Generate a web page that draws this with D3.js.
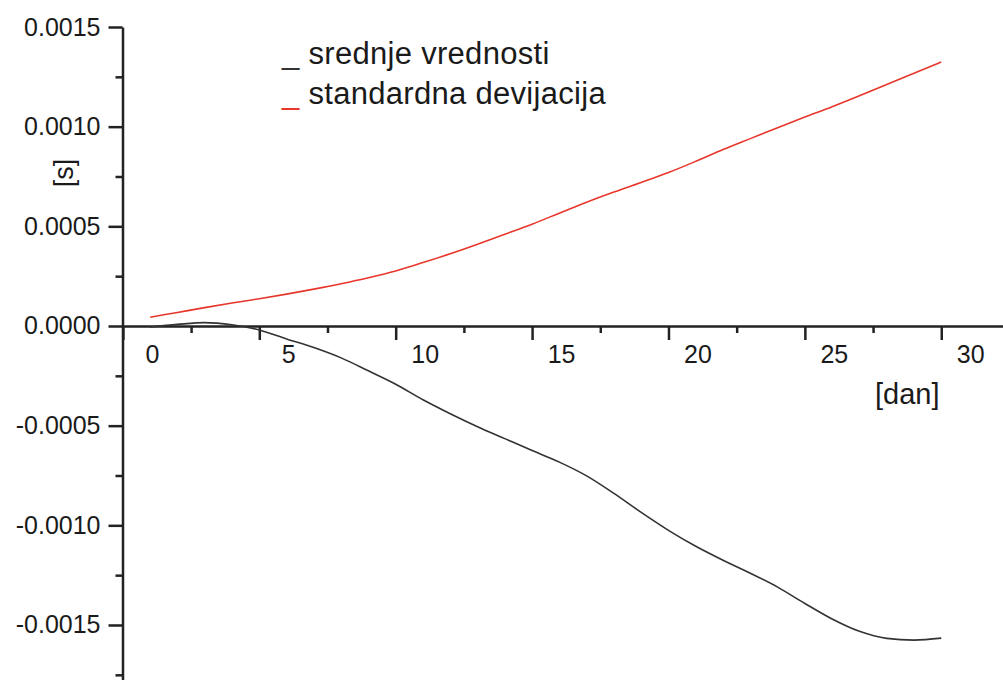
<!DOCTYPE html>
<html>
<head>
<meta charset="utf-8">
<script src="https://cdn.jsdelivr.net/npm/d3@7"></script>
<style>
  body { margin: 0; background: #fff; }
  text { font-family: "Liberation Sans", Arial, sans-serif; fill: #1a1a1a; }
</style>
</head>
<body>
<div id="chart"></div>
<script>
// data
var days = [1,2,3,4,5,6,7,8,9,10,11,12,13,14,15,16,17,18,19,20,21,22,23,24,25,26,27,28,29,30];
var meanValues = [-0.000005,0.000008,0.000017,0.000006,-0.000020,-0.000065,-0.000108,-0.000160,-0.000225,-0.000292,
  -0.000370,-0.000440,-0.000505,-0.000565,-0.000625,-0.000683,-0.000752,-0.000840,-0.000935,-0.001025,
  -0.001105,-0.001175,-0.001240,-0.001310,-0.001392,-0.001470,-0.001532,-0.001567,-0.001576,-0.001566];
var stdValues = [0.000044,0.000068,0.000092,0.000115,0.000137,0.000160,0.000185,0.000212,0.000242,0.000276,
  0.000318,0.000362,0.000410,0.000460,0.000511,0.000566,0.000621,0.000672,0.000720,0.000770,
  0.000826,0.000885,0.000940,0.000995,0.001048,0.001100,0.001155,0.001212,0.001268,0.001324];
var xTicks = [0,5,10,15,20,25,30];
var xMinor = [2.5,7.5,12.5,17.5,22.5,27.5];
var yTicks = [0.0015,0.0010,0.0005,0,-0.0005,-0.0010,-0.0015];
var yMinor = [0.00125,0.00075,0.00025,-0.00025,-0.00075,-0.00125,-0.00175];
var legendLabels = ["srednje vrednosti","standardna devijacija"];
var lineColors = ["#333333","#e8362b"];

var svgWidth = 1003;
var svgHeight = 680;

var svg = d3.select("#chart")
  .append("svg")
  .attr("width", svgWidth)
  .attr("height", svgHeight);

// scales
var xScale = d3.scaleLinear()
  .domain([0, 32.3])
  .range([122.9, 1004]);

var yScale = d3.scaleLinear()
  .domain([-0.00178, 0.0015])
  .range([680.8, 27]);

// y axis
var yAxis = svg.append("g")
  .attr("transform", "translate(122.5,0)")
  .call(d3.axisLeft(yScale).tickValues(yTicks).tickSize(14).tickSizeOuter(0)
    .tickFormat(d3.format(".4f")));
yAxis.selectAll("text")
  .attr("x", -22)
  .style("font-size", "25px")
  .style("font-family", "'Liberation Sans', Arial, sans-serif")
  .text(d => d3.format(".4f")(d).replace("−", "-"));

svg.append("g")
  .attr("transform", "translate(122.5,0)")
  .call(d3.axisLeft(yScale).tickValues(yMinor).tickSize(7).tickFormat(""))
  .select(".domain").remove();

// x axis
var xAxis = svg.append("g")
  .attr("transform", "translate(0,326)")
  .call(d3.axisBottom(xScale).tickValues(xTicks).tickSize(14).tickSizeOuter(0));
xAxis.selectAll("text")
  .attr("x", 29)
  .attr("y", 19)
  .style("font-size", "25px")
  .style("font-family", "'Liberation Sans', Arial, sans-serif");

svg.append("g")
  .attr("transform", "translate(0,326)")
  .call(d3.axisBottom(xScale).tickValues(xMinor).tickSize(7).tickFormat(""))
  .select(".domain").remove();

svg.selectAll(".domain, .tick line")
  .attr("stroke", "#222")
  .attr("stroke-width", 2.5);

// axis labels
svg.append("text")
  .attr("x", 875)
  .attr("y", 404)
  .style("font-size", "29px")
  .text("[dan]");

svg.append("text")
  .attr("transform", "translate(73,173) rotate(-90)")
  .attr("text-anchor", "middle")
  .style("font-size", "27px")
  .text("[s]");

// lines
var line = d3.line()
  .x(d => xScale(d[0]))
  .y(d => yScale(d[1]))
  .curve(d3.curveMonotoneX);

var series = [meanValues, stdValues];
series.forEach(function(vals, i) {
  svg.append("path")
    .datum(days.map((d, j) => [d, vals[j]]))
    .attr("fill", "none")
    .attr("stroke", lineColors[i])
    .attr("stroke-width", 1.6)
    .attr("d", line);
});

// legend
legendLabels.forEach(function(label, i) {
  var t = svg.append("text")
    .attr("x", 282)
    .attr("y", 64 + i * 40)
    .style("font-size", "31px")
    .style("letter-spacing", "0.3px");
  t.append("tspan").style("fill", lineColors[i]).text("_");
  t.append("tspan").text(" " + label);
});
</script>
</body>
</html>
